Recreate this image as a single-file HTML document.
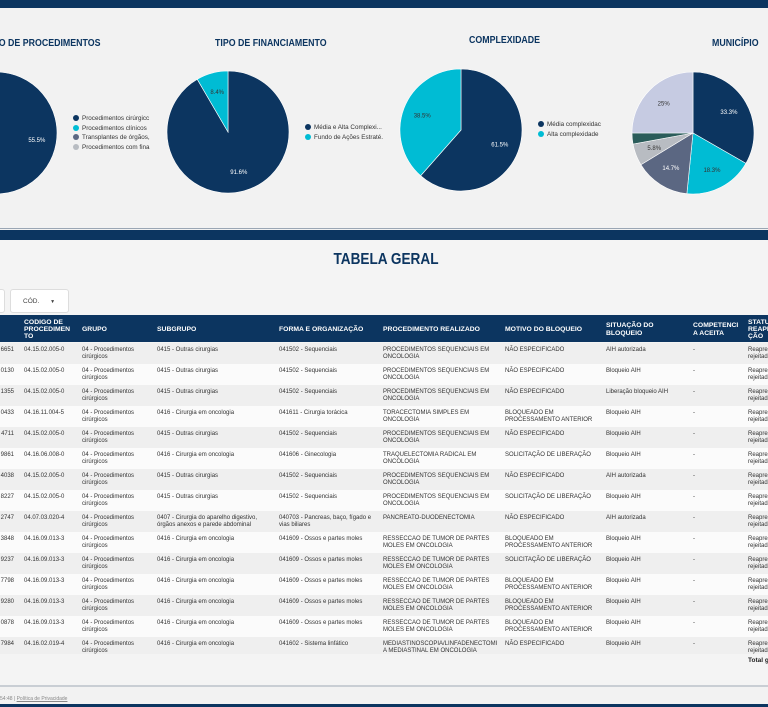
<!DOCTYPE html>
<html><head><meta charset="utf-8">
<style>
*{margin:0;padding:0;box-sizing:border-box}
body{width:768px;height:707px;overflow:hidden;background:#f2f2f2;font-family:"Liberation Sans",sans-serif;position:relative;color:#333}
.abs{position:absolute}
.title{position:absolute;font-weight:bold;font-size:10.5px;color:#0c3560;white-space:nowrap;transform:scaleX(0.84);transform-origin:left top}
.leg{position:absolute;font-size:6.3px;color:#333;white-space:nowrap;line-height:9.5px}
.leg i{display:inline-block;width:6px;height:6px;border-radius:50%;margin-right:3px;vertical-align:-1px}
#tbl{position:absolute;left:0;top:315px;width:768px;height:339px;overflow:hidden}
.hd{position:absolute;top:0;height:27px;left:0;width:768px;background:#0c3560}
.hc{position:absolute;color:#fff;font-weight:bold;font-size:6.8px;line-height:7.2px;top:1px;height:27px;display:flex;align-items:center;white-space:nowrap}
.row{position:absolute;left:0;width:768px;height:21px}
.c{position:absolute;top:4px;font-size:6px;line-height:7px;color:#333;white-space:nowrap}
</style></head><body>
<div class="abs" style="left:0;top:0;width:768px;height:8px;background:#0c3560"></div>

<div class="title" style="right:668px;top:37px;transform-origin:right top">TIPO DE PROCEDIMENTOS</div>
<div class="title" style="left:215px;top:37px">TIPO DE FINANCIAMENTO</div>
<div class="title" style="left:469px;top:34px">COMPLEXIDADE</div>
<div class="title" style="left:712px;top:37px">MUNICÍPIO</div>

<svg id="pies" class="abs" style="left:0;top:0" width="768" height="228"></svg>

<div class="leg" style="left:73px;top:114px">
<div><i style="background:#0c3560"></i>Procedimentos cirúrgicc</div>
<div><i style="background:#00bcd4"></i>Procedimentos clínicos</div>
<div><i style="background:#5b6782"></i>Transplantes de órgãos,</div>
<div><i style="background:#b8bcc2"></i>Procedimentos com fina</div>
</div>
<div class="leg" style="left:305px;top:123px">
<div><i style="background:#0c3560"></i>Média e Alta Complexi...</div>
<div><i style="background:#00bcd4"></i>Fundo de Ações Estraté.</div>
</div>
<div class="leg" style="left:538px;top:120px">
<div><i style="background:#0c3560"></i>Média complexidac</div>
<div><i style="background:#00bcd4"></i>Alta complexidade</div>
</div>

<div class="abs" style="left:0;top:228px;width:768px;height:1px;background:#9aa6b4"></div>
<div class="abs" style="left:0;top:230px;width:768px;height:10px;background:#0c3560"></div>
<div class="abs" style="left:0;top:240px;width:768px;height:445px;background:#f4f4f4"></div>

<div class="abs" style="left:0;width:772px;text-align:center;top:251px;font-size:16px;font-weight:bold;color:#0c3560;transform:scaleX(0.85)">TABELA GERAL</div>
<div class="abs" style="left:-6px;top:289px;width:11px;height:24px;background:#fff;border:1px solid #ddd;border-radius:3px"></div>
<div class="abs" style="left:10px;top:289px;width:59px;height:24px;background:#fff;border:1px solid #ddd;border-radius:3px;font-size:6.5px;color:#444;padding:8px 0 0 12px">CÓD. <span style="margin-left:9px;font-size:5px">▼</span></div>

<div id="tbl"></div>
<div class="abs" style="left:748px;top:657px;font-size:6.5px;font-weight:bold;color:#222;white-space:nowrap">Total g</div>

<div class="abs" style="left:0;top:685px;width:768px;height:2px;background:#c9ced4"></div>
<div class="abs" style="left:0;top:696px;font-size:5px;color:#888">54:48 | <span style="text-decoration:underline">Política de Privacidade</span></div>
<div class="abs" style="left:0;top:704px;width:768px;height:3px;background:#0c3560"></div>

<script>
const procValues=[55.5,30,8,6.5];
const procColors=['#0c3560','#00bcd4','#5b6782','#b8bcc2'];
const finValues=[91.6,8.4];
const finColors=['#0c3560','#00bcd4'];
const compValues=[61.5,38.5];
const compColors=['#0c3560','#00bcd4'];
const munValues=[33.3,18.3,14.7,5.8,2.9,25];
const munLabels=['33.3%','18.3%','14.7%','5.8%','','25%'];
const munColors=['#0c3560','#00bcd4','#5b6782','#b8bcc2','#2a5c5a','#c6cbe2'];

const NS='http://www.w3.org/2000/svg';
const svg=document.getElementById('pies');
function pie(name,cx,cy,r,vals,cols,labels,labelIdx){
  const tot=vals.reduce((a,b)=>a+b,0);
  let a0=0;
  vals.forEach((v,i)=>{
    const a1=a0+v/tot*2*Math.PI;
    const x0=cx+r*Math.sin(a0),y0=cy-r*Math.cos(a0),x1=cx+r*Math.sin(a1),y1=cy-r*Math.cos(a1);
    const p=document.createElementNS(NS,'path');
    p.setAttribute('d',`M${cx},${cy}L${x0},${y0}A${r},${r} 0 ${a1-a0>Math.PI?1:0} 1 ${x1},${y1}Z`);
    p.setAttribute('fill',cols[i]);
    p.setAttribute('stroke','#fff');p.setAttribute('stroke-width','0.6');
    
    
    svg.appendChild(p);
    const lab=labels?labels[i]:(v+'%');
    if(lab && (!labelIdx||labelIdx.includes(i))){
      const m=(a0+a1)/2,lr=r*0.68;
      const t=document.createElementNS(NS,'text');
      t.setAttribute('x',cx+lr*Math.sin(m));t.setAttribute('y',cy-lr*Math.cos(m)+2);
      t.setAttribute('text-anchor','middle');t.setAttribute('font-size','6');
      t.setAttribute('font-family','Liberation Sans, sans-serif');
      const light=['#b8bcc2','#c6cbe2','#00bcd4'].includes(cols[i]);
      t.setAttribute('fill',light?'#333':'#fff');
      t.textContent=lab;
      
      
      svg.appendChild(t);
    }
    a0=a1;
  });
}
pie('procedimentos',-4,133,61,procValues,procColors,null,[0]);
pie('financiamento',228,132,61,finValues,finColors,null,null);
pie('complexidade',461,130,61,compValues,compColors,null,null);
pie('municipio',693,133,61,munValues,munColors,munLabels,null);

const colX=[-30,24,82,157,279,383,505,606,693,748];
const headers=['','CODIGO DE<br>PROCEDIMEN<br>TO','GRUPO','SUBGRUPO','FORMA E ORGANIZAÇÃO','PROCEDIMENTO REALIZADO','MOTIVO DO BLOQUEIO','SITUAÇÃO DO<br>BLOQUEIO','COMPETENCI<br>A ACEITA','STATUS<br>REAPRESENTA<br>ÇÃO'];
const ids=['  6651','  0130','  1355','  0433','  4711','  9861','  4038','  8227','  2747','  3848','  9237','  7798','  9280','  0878','  7984'];
const codes=['04.15.02.005-0','04.15.02.005-0','04.15.02.005-0','04.16.11.004-5','04.15.02.005-0','04.16.06.008-0','04.15.02.005-0','04.15.02.005-0','04.07.03.020-4','04.16.09.013-3','04.16.09.013-3','04.16.09.013-3','04.16.09.013-3','04.16.09.013-3','04.16.02.019-4'];
const SO='0415 - Outras cirurgias',SC='0416 - Cirurgia em oncologia';
const subs=[SO,SO,SO,SC,SO,SC,SO,SO,'0407 - Cirurgia do aparelho digestivo,<br>órgãos anexos e parede abdominal',SC,SC,SC,SC,SC,SC];
const FS='041502 - Sequenciais',FO='041609 - Ossos e partes moles';
const formas=[FS,FS,FS,'041611 - Cirurgia torácica',FS,'041606 - Ginecologia',FS,FS,'040703 - Pancreas, baço, fígado e<br>vias biliares',FO,FO,FO,FO,FO,'041602 - Sistema linfático'];
const PS='PROCEDIMENTOS SEQUENCIAIS EM<br>ONCOLOGIA',PR='RESSECCAO DE TUMOR DE PARTES<br>MOLES EM ONCOLOGIA';
const procs=[PS,PS,PS,'TORACECTOMIA SIMPLES EM<br>ONCOLOGIA',PS,'TRAQUELECTOMIA RADICAL EM<br>ONCOLOGIA',PS,PS,'PANCREATO-DUODENECTOMIA',PR,PR,PR,PR,PR,'MEDIASTINOSCOPIA/LINFADENECTOMI<br>A MEDIASTINAL EM ONCOLOGIA'];
const NE='NÃO ESPECIFICADO',BP='BLOQUEADO EM<br>PROCESSAMENTO ANTERIOR',SL='SOLICITAÇÃO DE LIBERAÇÃO';
const motivos=[NE,NE,NE,BP,NE,SL,NE,SL,NE,BP,SL,BP,BP,BP,NE];
const situ=['AIH autorizada','Bloqueio AIH','Liberação bloqueio AIH','Bloqueio AIH','Bloqueio AIH','Bloqueio AIH','AIH autorizada','Bloqueio AIH','AIH autorizada','Bloqueio AIH','Bloqueio AIH','Bloqueio AIH','Bloqueio AIH','Bloqueio AIH','Bloqueio AIH'];

const tbl=document.getElementById('tbl');
const hd=document.createElement('div');hd.className='hd';


tbl.appendChild(hd);
headers.forEach((h,i)=>{
  const d=document.createElement('div');d.className='hc';d.style.left=colX[i]+'px';
  d.innerHTML='<span>'+h+'</span>';
  
  
  hd.appendChild(d);
});
ids.forEach((id,r)=>{
  const row=document.createElement('div');row.className='row';
  row.style.top=(28+21*r)+'px';
  row.style.background=r%2?'#fbfbfb':'#efefef';
  
  
  const cells=['<span style="display:inline-block;width:44px;text-align:right">'+id+'</span>',codes[r],'04 - Procedimentos<br>cirúrgicos',subs[r],formas[r],procs[r],motivos[r],situ[r],'-','Reapresentação<br>rejeitada'];
  cells.forEach((c,i)=>{
    const d=document.createElement('div');d.className='c';d.style.left=colX[i]+'px';
    d.innerHTML=c;
    
    
    row.appendChild(d);
  });
  tbl.appendChild(row);
});
</script>
</body></html>
